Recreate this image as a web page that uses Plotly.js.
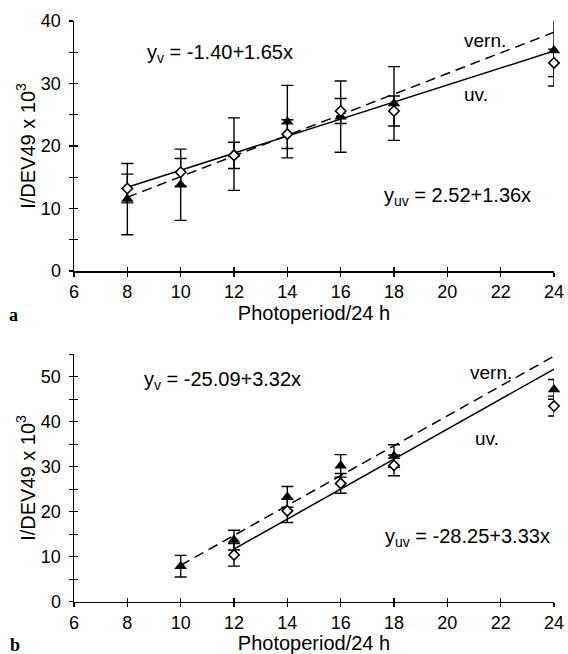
<!DOCTYPE html>
<html>
<head>
<meta charset="utf-8">
<script src="https://cdn.plot.ly/plotly-3.0.1.min.js"></script>
<style>html,body{margin:0;padding:0;background:#fff;} #chart{width:568px;height:654px;}</style>
</head>
<body>
<div id="chart"></div>
<script>
// ---- Panel a data ----
var photoA = [8, 10, 12, 14, 16, 18, 24];
var vernA = [11.5, 13.8, 18.7, 23.9, 24.7, 26.8, 35.3];
var vernErrA = [5.7, 5.7, 5.8, 5.8, 5.7, 5.9, 5.7];
var uvA = [13.2, 15.8, 18.5, 21.9, 25.6, 25.6, 33.3];
var uvErrA = [2.3, 2.2, 2.1, 2.3, 2.0, 2.4, 2.2];
var fitXA = [8, 24];
var fitVernA = [11.8, 38.2];
var fitUvA = [13.4, 35.2];

// ---- Panel b data ----
var photoVernB = [10, 12, 14, 16, 18, 24];
var vernB = [7.9, 13.7, 23.3, 30.2, 32.4, 47.2];
var vernErrB = [2.4, 2.2, 2.3, 2.5, 2.5, 2.2];
var photoUvB = [12, 14, 16, 18, 24];
var uvB = [10.4, 20.2, 26.3, 30.3, 43.5];
var uvErrB = [2.5, 2.6, 2.2, 2.3, 2.2];
var fitXVernB = [10, 24];
var fitVernB = [8.1, 54.6];
var fitXUvB = [12, 24];
var fitUvB = [11.7, 51.7];

// ---- Tick labels ----
var xTicks = [6, 8, 10, 12, 14, 16, 18, 20, 22, 24];
var yTicksA = [0, 10, 20, 30, 40];
var yMinorA = [5, 15, 25, 35];
var yTicksB = [0, 10, 20, 30, 40, 50];
var yMinorB = [5, 15, 25, 35, 45, 55];

var W = 568, H = 654;
function px(x) { return x / W; }
function py(y) { return 1 - y / H; }

var FONT = 'Liberation Sans, Arial, Helvetica, sans-serif';
var black = '#000';

function errBar(arr) {
  return {type: 'data', array: arr, visible: true, color: black, thickness: 1.4, width: 6};
}

var traces = [
  // panel a fits
  {x: fitXA, y: fitVernA, mode: 'lines', line: {color: black, width: 1.5, dash: '10px,6px'}, xaxis: 'x', yaxis: 'y', hoverinfo: 'skip'},
  {x: fitXA, y: fitUvA, mode: 'lines', line: {color: black, width: 1.5}, xaxis: 'x', yaxis: 'y', hoverinfo: 'skip'},
  // panel a points
  {x: photoA, y: vernA, mode: 'markers', error_y: errBar(vernErrA),
   marker: {symbol: 'triangle-up', size: 11, color: black}, cliponaxis: false, xaxis: 'x', yaxis: 'y'},
  {x: photoA, y: uvA, mode: 'markers', error_y: errBar(uvErrA),
   marker: {symbol: 'diamond', size: 8, color: '#fff', line: {color: black, width: 1.6}}, cliponaxis: false, xaxis: 'x', yaxis: 'y'},
  // panel b fits
  {x: fitXVernB, y: fitVernB, mode: 'lines', line: {color: black, width: 1.5, dash: '10px,6px'}, xaxis: 'x2', yaxis: 'y2', hoverinfo: 'skip'},
  {x: fitXUvB, y: fitUvB, mode: 'lines', line: {color: black, width: 1.5}, xaxis: 'x2', yaxis: 'y2', hoverinfo: 'skip'},
  // panel b points
  {x: photoVernB, y: vernB, mode: 'markers', error_y: errBar(vernErrB),
   marker: {symbol: 'triangle-up', size: 11, color: black}, cliponaxis: false, xaxis: 'x2', yaxis: 'y2'},
  {x: photoUvB, y: uvB, mode: 'markers', error_y: errBar(uvErrB),
   marker: {symbol: 'diamond', size: 8, color: '#fff', line: {color: black, width: 1.6}}, cliponaxis: false, xaxis: 'x2', yaxis: 'y2'},
  // dummy traces for inside-tick overlay axes
  {x: [null], y: [null], xaxis: 'x3', yaxis: 'y3', showlegend: false, hoverinfo: 'skip'},
  {x: [null], y: [null], xaxis: 'x4', yaxis: 'y4', showlegend: false, hoverinfo: 'skip'}
];

var xDom = [px(74), px(554)];
var yDomA = [py(271), py(21)];
var yDomB = [py(601.7), py(354.3)];

function baseX(anchor) {
  return {
    domain: xDom, anchor: anchor, range: [6, 24], tickvals: xTicks,
    ticks: 'outside', ticklen: 4, tickwidth: 1.4, tickcolor: black,
    showline: true, linewidth: 1.5, linecolor: black, showgrid: false, zeroline: false,
    tickfont: {family: FONT, size: 18, color: black},
    title: {text: 'Photoperiod/24 h', font: {family: FONT, size: 20, color: black}, standoff: 0},
    fixedrange: true
  };
}
function baseY(anchor, dom, range, ticks, minor) {
  return {
    domain: dom, anchor: anchor, range: range, tickvals: ticks,
    ticks: 'outside', ticklen: 4, tickwidth: 1.4, tickcolor: black,
    minor: {tickvals: minor, ticks: 'outside', ticklen: 4, tickwidth: 1.4, tickcolor: black},
    showline: true, linewidth: 1.5, linecolor: black, showgrid: false, zeroline: false,
    tickfont: {family: FONT, size: 18, color: black}, ticklabelstandoff: 4,
    title: {text: 'I/DEV49 x 10<sup>3</sup>', font: {family: FONT, size: 20, color: black}, standoff: 0},
    fixedrange: true
  };
}
function overlayX(over, anchor) {
  return {overlaying: over, anchor: anchor, range: [6, 24], tickvals: xTicks, ticks: 'inside', ticklen: 4,
    tickwidth: 1.4, tickcolor: black, showticklabels: false, showline: false, showgrid: false, zeroline: false, fixedrange: true};
}
function overlayY(over, anchor, range, vals) {
  return {overlaying: over, anchor: anchor, range: range, tickvals: vals, ticks: 'inside', ticklen: 4,
    tickwidth: 1.4, tickcolor: black, showticklabels: false, showline: false, showgrid: false, zeroline: false, fixedrange: true};
}

function ann(text, x, y, anchor, size) {
  return {text: text, xref: 'paper', yref: 'paper', x: px(x), y: py(y), xanchor: anchor || 'left', yanchor: 'middle',
    showarrow: false, font: {family: FONT, size: size || 20, color: black}};
}

var layout = {
  width: W, height: H,
  margin: {l: 0, r: 0, t: 0, b: 0},
  paper_bgcolor: '#fff', plot_bgcolor: 'rgba(0,0,0,0)',
  showlegend: false,
  xaxis: baseX('y'),
  yaxis: baseY('x', yDomA, [0, 40], yTicksA, yMinorA),
  xaxis2: baseX('y2'),
  yaxis2: baseY('x2', yDomB, [0, 55], yTicksB, yMinorB),
  xaxis3: overlayX('x', 'y3'),
  yaxis3: overlayY('y', 'x3', [0, 40], [0, 5, 10, 15, 20, 25, 30, 35, 40]),
  xaxis4: overlayX('x2', 'y4'),
  yaxis4: overlayY('y2', 'x4', [0, 55], [0, 5, 10, 15, 20, 25, 30, 35, 40, 45, 50, 55]),
  annotations: [
    ann('y<sub>v</sub> = -1.40+1.65x', 145, 53),
    ann('vern.', 462, 40, 'left', 19),
    ann('uv.', 462, 94, 'left', 19),
    ann('y<sub>uv</sub> = 2.52+1.36x', 533, 196, 'right'),
    ann('y<sub>v</sub> = -25.09+3.32x', 142, 381),
    ann('vern.', 468, 372, 'left', 19),
    ann('uv.', 473, 438, 'left', 19),
    ann('y<sub>uv</sub> = -28.25+3.33x', 552, 537, 'right'),
    {text: '<b>a</b>', xref: 'paper', yref: 'paper', x: px(14), y: py(315), xanchor: 'center', yanchor: 'middle',
     showarrow: false, font: {family: 'Liberation Serif, Times New Roman, serif', size: 18, color: black}},
    {text: '<b>b</b>', xref: 'paper', yref: 'paper', x: px(15), y: py(645), xanchor: 'center', yanchor: 'middle',
     showarrow: false, font: {family: 'Liberation Serif, Times New Roman, serif', size: 18, color: black}}
  ]
};

Plotly.newPlot('chart', traces, layout, {displayModeBar: false, staticPlot: true});
</script>
</body>
</html>
